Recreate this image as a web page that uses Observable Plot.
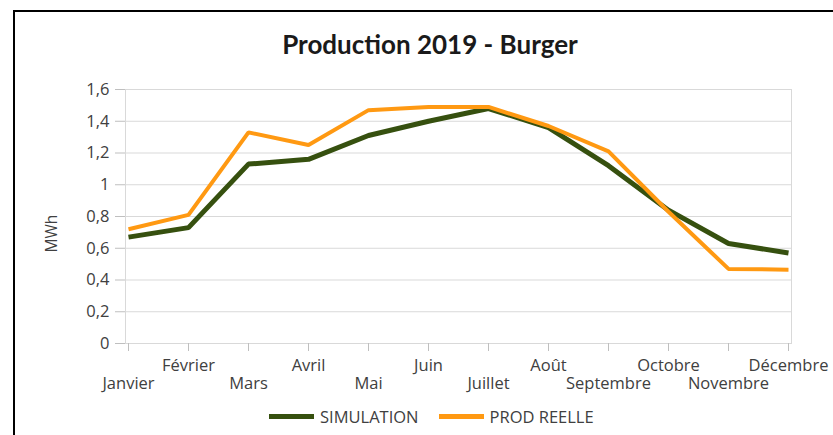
<!DOCTYPE html>
<html>
<head>
<meta charset="utf-8">
<script src="https://cdn.jsdelivr.net/npm/d3@7"></script>
<script src="https://cdn.jsdelivr.net/npm/@observablehq/plot@0.6"></script>
<style>
  html, body { margin: 0; padding: 0; background: #fff; }
  #wrap { position: relative; width: 833px; height: 435px; overflow: hidden; font-family: "Open Sans", Lato, sans-serif; }
  #border { position: absolute; left: 13px; top: 10px; width: 900px; height: 500px; border-left: 2px solid #000; border-top: 2px solid #000; }
  #title { position: absolute; left: 0; width: 860px; top: 29px; line-height: 1.2; text-align: center; font-family: Lato, sans-serif; font-size: 26px; font-weight: bold; color: #1a1a1a; }
  #legend { position: absolute; left: 269px; top: 405px; height: 22px; display: flex; align-items: center; font-size: 16.5px; color: #404040; }
  .sw { display: inline-block; width: 45px; height: 5px; margin-right: 6px; }
  #chart { position: absolute; left: 0; top: 0; }
</style>
</head>
<body>
<div id="wrap">
  <div id="border"></div>
  <div id="chart"></div>
  <div id="title">Production 2019 - Burger</div>
  <div id="legend"></div>
</div>
<script>
const months = ["Janvier","Février","Mars","Avril","Mai","Juin","Juillet","Août","Septembre","Octobre","Novembre","Décembre"];
const simulation = [0.67,0.73,1.13,1.16,1.31,1.40,1.48,1.36,1.12,0.84,0.63,0.57];
const prodReelle = [0.72,0.81,1.33,1.25,1.47,1.49,1.49,1.37,1.21,0.83,0.47,0.465];
const yTicks = [0,0.2,0.4,0.6,0.8,1,1.2,1.4,1.6];
const seriesNames = ["SIMULATION","PROD REELLE"];
const seriesColors = ["#36500f","#ff9912"];

const data = [];
months.forEach((m,i) => {
  data.push({month: m, series: seriesNames[0], value: simulation[i]});
  data.push({month: m, series: seriesNames[1], value: prodReelle[i]});
});
const fmt = d => String(d).replace(".", ",");
const upper = months.filter((m,i) => i % 2 === 1);
const lower = months.filter((m,i) => i % 2 === 0);
const font = "'Open Sans', sans-serif";

const chart = Plot.plot({
  width: 833,
  height: 435,
  marginLeft: 125,
  marginRight: 42,
  marginTop: 89,
  marginBottom: 92,
  style: {fontFamily: font, fontSize: "16px", color: "#404040", background: "transparent"},
  x: {type: "point", domain: months, padding: 0, label: null},
  y: {domain: [0, 1.6], label: null},
  marks: [
    Plot.gridY(yTicks, {stroke: "#d9d9d9", strokeOpacity: 1}),
    Plot.frame({stroke: "#d9d9d9"}),
    Plot.axisY(yTicks, {label: null, tickFormat: fmt, tickSize: 10, tickPadding: 6, stroke: "#bfbfbf", fill: "#404040", fontSize: 16.5}),
    Plot.axisX({label: null, tickSize: 8, tickFormat: () => "", stroke: "#bfbfbf"}),
    Plot.text(upper, {x: d => d, y: () => 0, dy: 22, text: d => d, fill: "#404040", fontSize: 16.5, lineAnchor: "middle"}),
    Plot.text(lower, {x: d => d, y: () => 0, dy: 40, text: d => d, fill: "#404040", fontSize: 16.5, lineAnchor: "middle"}),
    Plot.text(["MWh"], {frameAnchor: "left", dx: -73, dy: 36, rotate: -90, text: d => d, fill: "#404040", fontSize: 15.5}),
    Plot.line(data.filter(d => d.series === seriesNames[0]), {x: "month", y: "value", stroke: seriesColors[0], strokeWidth: 5, strokeLinejoin: "miter", strokeLinecap: "butt"}),
    Plot.line(data.filter(d => d.series === seriesNames[1]), {x: "month", y: "value", stroke: seriesColors[1], strokeWidth: 4, strokeLinejoin: "miter", strokeLinecap: "butt"})
  ]
});
document.getElementById("chart").appendChild(chart);

const legend = document.getElementById("legend");
seriesNames.forEach((s,i) => {
  const item = document.createElement("span");
  item.style.display = "inline-flex";
  item.style.alignItems = "center";
  item.style.marginRight = i === 0 ? "20px" : "0";
  item.innerHTML = `<span class="sw" style="background:${seriesColors[i]}"></span>${s}`;
  legend.appendChild(item);
});
</script>
</body>
</html>
